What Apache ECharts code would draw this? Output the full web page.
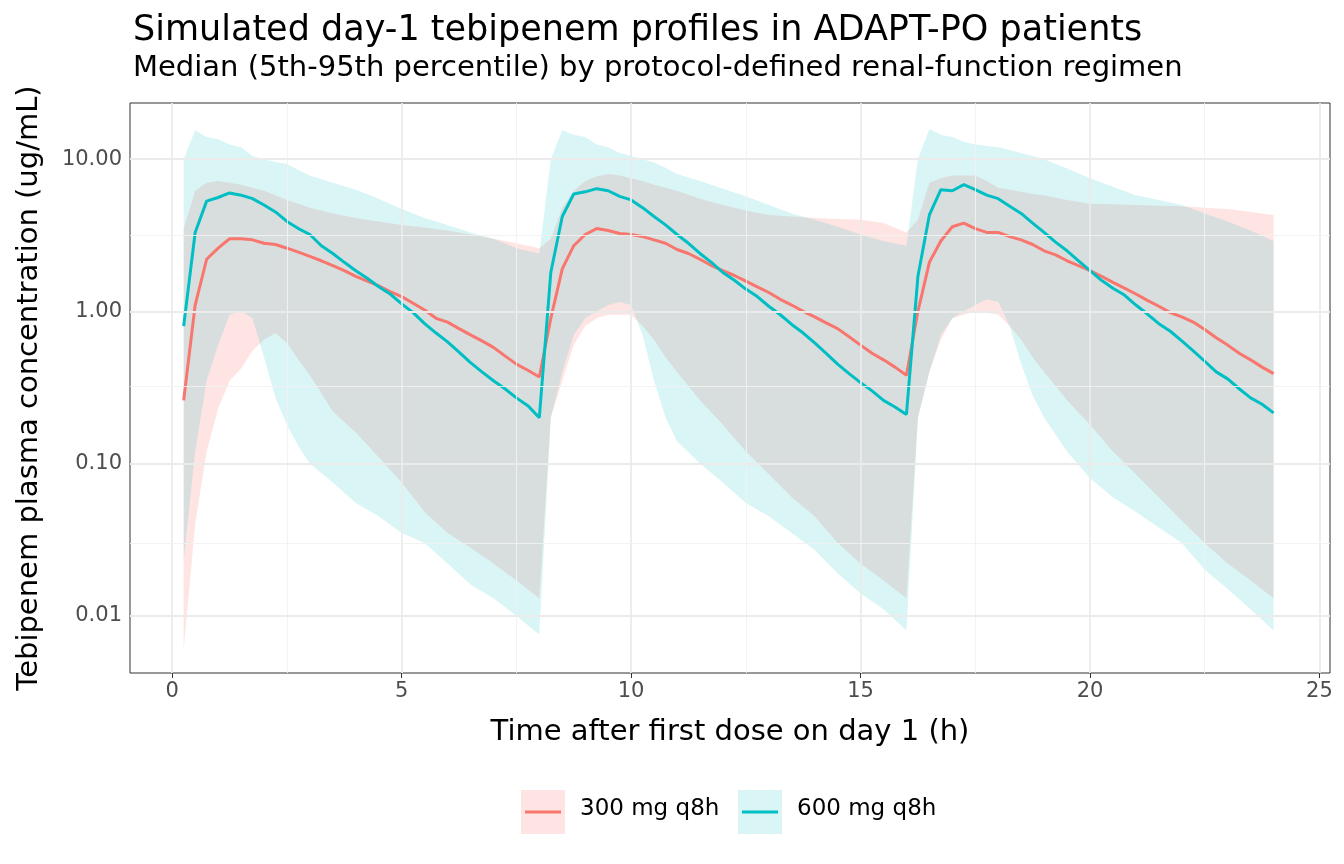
<!DOCTYPE html>
<html>
<head>
<meta charset="utf-8">
<script src="https://cdn.jsdelivr.net/npm/echarts@6/dist/echarts.min.js"></script>
<style>html,body{margin:0;padding:0;background:#fff}#chart{width:1344px;height:864px}</style>
</head>
<body>
<div id="chart"></div>
<script>
// median profiles, 0.25 h steps from 0.25 to 24
var medTimes = [];
for (var i = 1; i <= 96; i++) medTimes.push(i * 0.25);
var med300 = [
  0.26,1.1,2.2,2.6,3.0,3.0,2.95,2.8,2.75,2.6,2.45,2.3,2.15,2.0,1.85,1.7,1.58,1.47,1.35,1.25,1.13,1.02,0.9,0.85,0.77,0.7,0.64,0.58,0.51,0.45,0.41,0.37,
  0.9,1.9,2.7,3.2,3.5,3.4,3.25,3.2,3.1,2.95,2.8,2.55,2.4,2.2,2.0,1.85,1.72,1.58,1.45,1.33,1.2,1.1,1.0,0.92,0.84,0.77,0.68,0.6,0.53,0.48,0.43,0.38,
  1.0,2.1,2.9,3.6,3.8,3.5,3.3,3.3,3.1,2.95,2.75,2.5,2.35,2.15,2.0,1.85,1.7,1.55,1.42,1.3,1.18,1.08,0.98,0.92,0.85,0.76,0.67,0.6,0.53,0.48,0.43,0.39
];
var med600 = [
  0.8,3.3,5.3,5.6,6.0,5.8,5.5,5.0,4.5,3.9,3.5,3.2,2.7,2.4,2.1,1.85,1.65,1.45,1.3,1.12,0.98,0.83,0.72,0.63,0.54,0.46,0.4,0.35,0.31,0.27,0.24,0.2,
  1.8,4.2,5.9,6.1,6.4,6.2,5.7,5.4,4.8,4.2,3.7,3.2,2.8,2.4,2.1,1.8,1.6,1.4,1.25,1.08,0.95,0.82,0.72,0.62,0.53,0.45,0.39,0.34,0.3,0.26,0.235,0.21,
  1.7,4.3,6.3,6.2,6.8,6.3,5.8,5.5,4.9,4.4,3.8,3.3,2.85,2.5,2.15,1.85,1.6,1.42,1.28,1.1,0.96,0.83,0.74,0.64,0.55,0.47,0.4,0.36,0.31,0.27,0.245,0.215
];
// 5th-95th percentile bands
var bandBase = [0.25,0.5,0.75,1,1.25,1.5,1.75,2,2.25,2.5,2.75,3,3.5,4,4.5,5,5.5,6,6.5,7,7.5,8];
var bandTimes = [];
[0, 8, 16].forEach(function (o) { bandBase.forEach(function (t) { bandTimes.push(t + o); }); });
var lo300 = [
  0.006,0.04,0.12,0.23,0.35,0.42,0.55,0.65,0.72,0.62,0.48,0.38,0.22,0.16,0.11,0.075,0.048,0.035,0.028,0.022,0.017,0.013,
  0.2,0.35,0.6,0.8,0.9,0.95,0.95,0.95,0.8,0.65,0.5,0.4,0.26,0.18,0.12,0.085,0.06,0.045,0.03,0.022,0.017,0.013,
  0.2,0.4,0.65,0.9,0.95,1.0,0.98,0.95,0.8,0.65,0.5,0.4,0.26,0.18,0.12,0.085,0.06,0.042,0.03,0.022,0.017,0.013
];
var hi300 = [
  3.5,6.2,7.0,7.2,7.0,6.8,6.5,6.2,5.8,5.4,5.1,4.8,4.4,4.1,3.9,3.7,3.55,3.4,3.2,3.0,2.8,2.6,
  3.0,4.8,6.2,7.2,7.7,8.0,7.8,7.5,7.2,6.8,6.5,6.2,5.5,5.0,4.6,4.3,4.2,4.1,4.05,4.0,3.8,3.3,
  4.0,7.0,7.5,7.8,7.8,7.8,7.2,6.5,6.3,6.1,5.9,5.8,5.4,5.1,5.05,5.0,4.95,4.9,4.8,4.7,4.5,4.3
];
var lo600 = [
  0.023,0.12,0.35,0.6,0.95,1.0,0.9,0.5,0.27,0.18,0.13,0.1,0.075,0.055,0.045,0.035,0.03,0.022,0.016,0.013,0.01,0.0075,
  0.2,0.4,0.7,0.9,1.0,1.1,1.15,1.1,0.7,0.35,0.2,0.14,0.1,0.075,0.055,0.045,0.035,0.027,0.019,0.014,0.011,0.008,
  0.2,0.4,0.7,0.9,1.0,1.1,1.2,1.15,0.8,0.45,0.28,0.2,0.12,0.08,0.06,0.048,0.038,0.03,0.02,0.015,0.011,0.008
];
var hi600 = [
  10,15.5,14,13.5,12.5,12,10.5,10,9.6,9.3,8.5,7.8,7.0,6.3,5.5,4.7,4.1,3.7,3.3,3.0,2.6,2.4,
  10,15.5,14.5,14,12.5,12,11,10.5,10,9.5,8.8,8.0,7.2,6.4,5.7,5.0,4.4,4.0,3.6,3.2,2.9,2.7,
  10,15.8,14.5,14,13,12.5,12.2,12,11.5,11,10.5,10,8.7,7.5,6.6,5.8,5.4,5.0,4.4,3.9,3.4,2.9
];
var xTicks = [0, 5, 10, 15, 20, 25];
var xMinor = [2.5, 7.5, 12.5, 17.5, 22.5];
var yTicks = [0.01, 0.1, 1, 10];
var yLabels = ['0.01', '0.10', '1.00', '10.00'];
var yMinor = [0.0316, 0.316, 3.16];

var RED = '#F8766D', CYAN = '#00BFC4';
var FONT = 'DejaVu Sans';
function pairs(xs, ys) { return xs.map(function (x, i) { return [x, ys[i]]; }); }

function bandSeries(name, lo, hi, color, op) {
  var data = bandTimes.map(function (t, i) { return [t, lo[i], hi[i]]; });
  return {
    type: 'custom', name: name, silent: true, z: 1,
    data: data,
    encode: { x: 0, y: [1, 2] },
    renderItem: function (params, api) {
      if (params.dataIndex !== 0) return;
      var top = [], bot = [];
      data.forEach(function (d) {
        top.push(api.coord([d[0], d[2]]));
        bot.unshift(api.coord([d[0], d[1]]));
      });
      return { type: 'polygon', shape: { points: top.concat(bot) }, style: { fill: color, opacity: op } };
    }
  };
}

var gridLines = [];
xTicks.forEach(function (v) { gridLines.push({ xAxis: v, lineStyle: { color: '#ebebeb', width: 1.8, type: 'solid' } }); });
xMinor.forEach(function (v) { gridLines.push({ xAxis: v, lineStyle: { color: '#f2f2f2', width: 0.9, type: 'solid' } }); });
yTicks.forEach(function (v) { gridLines.push({ yAxis: v, lineStyle: { color: '#ebebeb', width: 1.8, type: 'solid' } }); });
yMinor.forEach(function (v) { gridLines.push({ yAxis: v, lineStyle: { color: '#f2f2f2', width: 0.9, type: 'solid' } }); });

var chart = echarts.init(document.getElementById('chart'));
chart.setOption({
  animation: false,
  title: {
    text: 'Simulated day-1 tebipenem profiles in ADAPT-PO patients',
    subtext: 'Median (5th-95th percentile) by protocol-defined renal-function regimen',
    left: 128, top: 8, itemGap: 6,
    textStyle: { fontFamily: FONT, fontSize: 35, fontWeight: 'normal', color: '#000' },
    subtextStyle: { fontFamily: FONT, fontSize: 29, color: '#000' }
  },
  grid: { left: 130, right: 14, top: 103, bottom: 191, show: true, borderColor: '#333', borderWidth: 1, backgroundColor: 'transparent' },
  xAxis: {
    type: 'value', min: -0.92, max: 25.23,
    name: 'Time after first dose on day 1 (h)', nameLocation: 'middle', nameGap: 45,
    nameTextStyle: { fontFamily: FONT, fontSize: 29, color: '#000' },
    axisLine: { show: false },
    axisTick: { show: true, length: 5, lineStyle: { color: '#333' }, customValues: xTicks },
    axisLabel: { customValues: xTicks, fontFamily: FONT, fontSize: 21, color: '#4d4d4d', margin: 8 },
    splitLine: { show: false }
  },
  yAxis: {
    type: 'log', logBase: 10, min: 0.0042, max: 23.4,
    name: 'Tebipenem plasma concentration (ug/mL)', nameLocation: 'middle', nameGap: 86,
    nameTextStyle: { fontFamily: FONT, fontSize: 29, color: '#000' },
    axisLine: { show: false },
    axisTick: { show: true, length: 5, lineStyle: { color: '#333' }, customValues: yTicks },
    axisLabel: {
      customValues: yTicks, fontFamily: FONT, fontSize: 21, color: '#4d4d4d', margin: 8,
      formatter: function (v) { var k = yTicks.findIndex(function (t) { return Math.abs(t - v) / t < 1e-6; }); return k >= 0 ? yLabels[k] : ''; }
    },
    splitLine: { show: false }
  },
  series: [
    { type: 'line', data: [], silent: true, markLine: { silent: true, symbol: 'none', label: { show: false }, data: gridLines, animation: false }, z: 0 },
    bandSeries('band300', lo300, hi300, RED, 0.2),
    bandSeries('band600', lo600, hi600, CYAN, 0.15),
    { type: 'line', name: '300 mg q8h', data: pairs(medTimes, med300), showSymbol: false, lineStyle: { color: RED, width: 3 }, z: 3 },
    { type: 'line', name: '600 mg q8h', data: pairs(medTimes, med600), showSymbol: false, lineStyle: { color: CYAN, width: 3 }, z: 3 }
  ],
  graphic: [
    { type: 'rect', left: 521, top: 790, shape: { width: 44, height: 44 }, style: { fill: RED, opacity: 0.2 } },
    { type: 'line', shape: { x1: 525, y1: 812, x2: 561, y2: 812 }, style: { stroke: RED, lineWidth: 3 } },
    { type: 'text', left: 580, top: 798, style: { text: '300 mg q8h', font: '23px DejaVu Sans', fill: '#000' } },
    { type: 'rect', left: 738, top: 790, shape: { width: 44, height: 44 }, style: { fill: CYAN, opacity: 0.15 } },
    { type: 'line', shape: { x1: 742, y1: 812, x2: 778, y2: 812 }, style: { stroke: CYAN, lineWidth: 3 } },
    { type: 'text', left: 797, top: 798, style: { text: '600 mg q8h', font: '23px DejaVu Sans', fill: '#000' } }
  ]
});
</script>
</body>
</html>
